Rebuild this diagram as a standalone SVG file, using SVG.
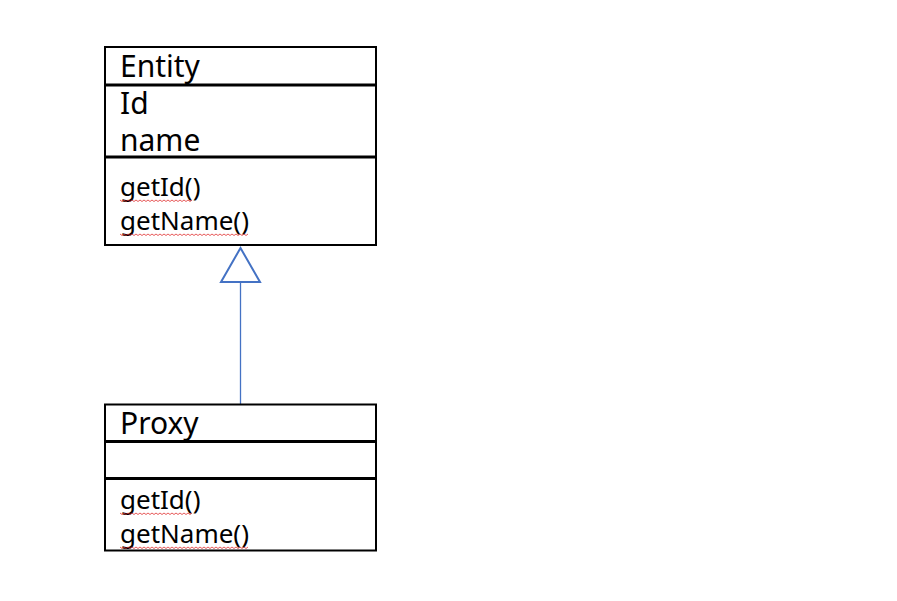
<svg xmlns="http://www.w3.org/2000/svg" width="897" height="601" viewBox="0 0 897 601">
<style>
.box{fill:#fff;stroke:#000;stroke-width:2}
.div{stroke:#000;stroke-width:3}
.big{font-family:"Noto Sans","Noto Sans CJK KR",sans-serif;font-size:30px;fill:#000}
.sm{font-family:"Noto Sans","Noto Sans CJK KR",sans-serif;font-size:26px;fill:#000}
.sq{fill:none;stroke:#e03030;stroke-width:0.8}
.con{stroke:#4472c4;stroke-width:1.3;fill:none}
.tri{stroke:#4472c4;stroke-width:2;fill:#fff}
</style>
<defs>
<path id="sq1" d="M0 0 l2 1.5 l2 -1.5 l2 1.5 l2 -1.5 l2 1.5 l2 -1.5 l2 1.5 l2 -1.5 l2 1.5 l2 -1.5 l2 1.5 l2 -1.5 l2 1.5 l2 -1.5 l2 1.5 l2 -1.5 l2 1.5 l2 -1.5 l2 1.5 l2 -1.5 l2 1.5 l2 -1.5 l2 1.5 l2 -1.5 l2 1.5 l2 -1.5 l2 1.5 l2 -1.5 l2 1.5 l2 -1.5 l2 1.5 l2 -1.5 l2 1.5 l2 -1.5 l2 1.5 l2 -1.5"/>
<path id="sq2" d="M0 0 l2 1.5 l2 -1.5 l2 1.5 l2 -1.5 l2 1.5 l2 -1.5 l2 1.5 l2 -1.5 l2 1.5 l2 -1.5 l2 1.5 l2 -1.5 l2 1.5 l2 -1.5 l2 1.5 l2 -1.5 l2 1.5 l2 -1.5 l2 1.5 l2 -1.5 l2 1.5 l2 -1.5 l2 1.5 l2 -1.5 l2 1.5 l2 -1.5 l2 1.5 l2 -1.5 l2 1.5 l2 -1.5 l2 1.5 l2 -1.5 l2 1.5 l2 -1.5 l2 1.5 l2 -1.5 l2 1.5 l2 -1.5 l2 1.5 l2 -1.5 l2 1.5 l2 -1.5 l2 1.5 l2 -1.5 l2 1.5 l2 -1.5 l2 1.5 l2 -1.5 l2 1.5 l2 -1.5 l2 1.5 l2 -1.5 l2 1.5 l2 -1.5 l2 1.5 l2 -1.5 l2 1.5 l2 -1.5 l2 1.5 l2 -1.5 l2 1.5 l2 -1.5 l2 1.5 l2 -1.5"/>
</defs>
<g id="connectors">
<line class="con" x1="240.5" y1="282" x2="240.5" y2="404"/>
<polygon class="tri" points="240.5,248 221,282 260,282"/>
</g>
<g id="entity">
<rect class="box" x="105" y="47" width="271" height="198"/>
<line class="div" x1="105" y1="85" x2="376" y2="85"/>
<line class="div" x1="105" y1="157" x2="376" y2="157"/>
<text class="big" x="120" y="77">Entity</text>
<text class="big" x="120" y="114">Id</text>
<text class="big" x="120" y="151">name</text>
<text class="sm" x="120" y="196">getId()</text>
<text class="sm" x="120" y="230">getName()</text>
<use href="#sq1" class="sq" x="120" y="200"/>
<use href="#sq2" class="sq" x="120" y="234"/>
</g>
<g id="proxy">
<rect class="box" x="105" y="404.5" width="271" height="146"/>
<line class="div" x1="105" y1="441.5" x2="376" y2="441.5"/>
<line class="div" x1="105" y1="478.5" x2="376" y2="478.5"/>
<text class="big" x="120" y="434">Proxy</text>
<text class="sm" x="120" y="509">getId()</text>
<text class="sm" x="120" y="543">getName()</text>
<use href="#sq1" class="sq" x="120" y="513"/>
<use href="#sq2" class="sq" x="120" y="547"/>
</g>
</svg>
